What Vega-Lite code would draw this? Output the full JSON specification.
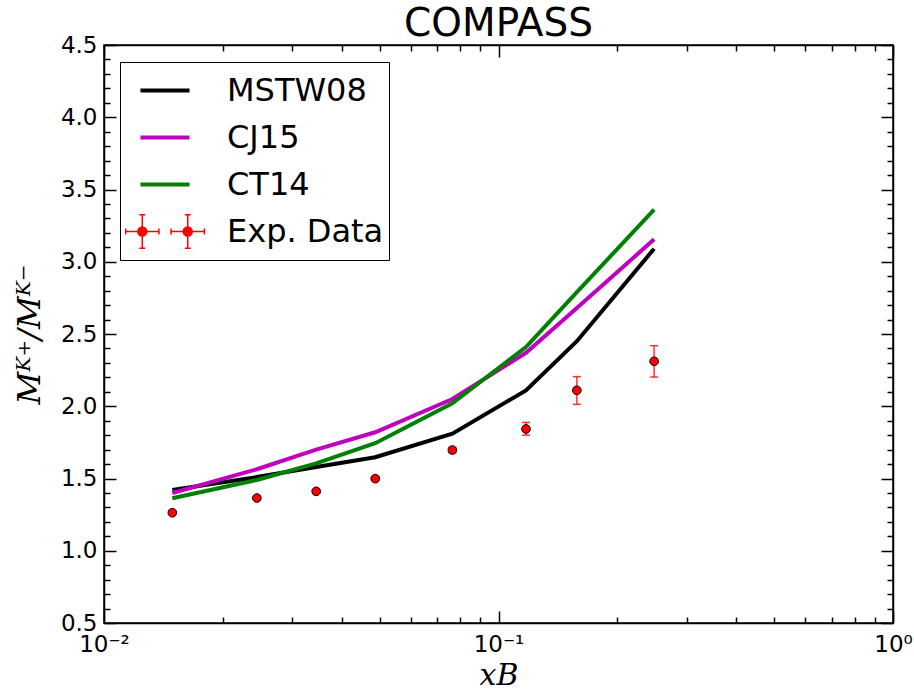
{
  "$schema": "https://vega.github.io/schema/vega-lite/v6.json",
  "width": 789,
  "height": 578,
  "autosize": "none",
  "padding": {"left": 104, "top": 45, "right": 21, "bottom": 71},
  "title": {"text": "COMPASS", "fontSize": 39, "font": "DejaVu Sans", "fontWeight": "normal", "color": "black", "offset": 8, "baseline": "alphabetic", "anchor": "middle", "dy": 49},
  "config": {
    "view": {"stroke": "black", "strokeWidth": 1.5},
    "axis": {"grid": false, "tickColor": "black", "tickWidth": 1.5, "domainColor": "black", "domainWidth": 1.5, "labelFont": "DejaVu Sans", "labelFontSize": 23, "labelColor": "black", "titleColor": "black"}
  },
  "datasets": {
    "curves": [
      {"series": "MSTW08", "x": 0.0149, "y": 1.42},
      {"series": "MSTW08", "x": 0.0244, "y": 1.51},
      {"series": "MSTW08", "x": 0.0345, "y": 1.58},
      {"series": "MSTW08", "x": 0.0487, "y": 1.647},
      {"series": "MSTW08", "x": 0.0764, "y": 1.81},
      {"series": "MSTW08", "x": 0.1174, "y": 2.11},
      {"series": "MSTW08", "x": 0.158, "y": 2.45},
      {"series": "MSTW08", "x": 0.248, "y": 3.09},
      {"series": "CJ15", "x": 0.0149, "y": 1.40},
      {"series": "CJ15", "x": 0.0244, "y": 1.564},
      {"series": "CJ15", "x": 0.0345, "y": 1.70},
      {"series": "CJ15", "x": 0.0487, "y": 1.82},
      {"series": "CJ15", "x": 0.0764, "y": 2.05},
      {"series": "CJ15", "x": 0.1174, "y": 2.37},
      {"series": "CJ15", "x": 0.158, "y": 2.68},
      {"series": "CJ15", "x": 0.248, "y": 3.155},
      {"series": "CT14", "x": 0.0149, "y": 1.363},
      {"series": "CT14", "x": 0.0244, "y": 1.49},
      {"series": "CT14", "x": 0.0345, "y": 1.605},
      {"series": "CT14", "x": 0.0487, "y": 1.744},
      {"series": "CT14", "x": 0.0764, "y": 2.02},
      {"series": "CT14", "x": 0.1174, "y": 2.41},
      {"series": "CT14", "x": 0.158, "y": 2.79},
      {"series": "CT14", "x": 0.248, "y": 3.36}
    ],
    "exp": [
      {"x": 0.0149, "y": 1.263, "lo": 1.253, "hi": 1.273},
      {"x": 0.0244, "y": 1.365, "lo": 1.355, "hi": 1.375},
      {"x": 0.0345, "y": 1.411, "lo": 1.399, "hi": 1.423},
      {"x": 0.0487, "y": 1.499, "lo": 1.487, "hi": 1.511},
      {"x": 0.0764, "y": 1.697, "lo": 1.677, "hi": 1.717},
      {"x": 0.1174, "y": 1.843, "lo": 1.800, "hi": 1.888},
      {"x": 0.158, "y": 2.11, "lo": 2.013, "hi": 2.205},
      {"x": 0.248, "y": 2.311, "lo": 2.202, "hi": 2.419}
    ]
  },
  "layer": [
    {
      "data": {"name": "curves"},
      "mark": {"type": "line", "strokeWidth": 4},
      "encoding": {
        "x": {"field": "x", "type": "quantitative", "scale": {"type": "log", "domain": [0.01, 1]},
          "axis": {"orient": "bottom", "values": [0.01, 0.1, 1], "labelExpr": "datum.value < 0.05 ? '10⁻²' : (datum.value < 0.5 ? '10⁻¹' : '10⁰')", "tickSize": -12, "labelPadding": 22, "labelFlush": false, "title": "xB", "titleFont": "DejaVu Serif", "titleFontStyle": "italic", "titleFontWeight": "normal", "titleFontSize": 30, "titlePadding": 4}},
        "y": {"field": "y", "type": "quantitative", "scale": {"domain": [0.5, 4.5]},
          "axis": {"orient": "left", "values": [0.5, 1, 1.5, 2, 2.5, 3, 3.5, 4, 4.5], "format": ".1f", "tickSize": -12, "labelPadding": 19, "labelFlush": false, "title": "Mᴷ⁺/Mᴷ⁻", "titleFont": "DejaVu Serif", "titleFontStyle": "italic", "titleFontWeight": "normal", "titleFontSize": 32, "titlePadding": 14}},
        "color": {"field": "series", "type": "nominal",
          "scale": {"domain": ["MSTW08", "CJ15", "CT14", "Exp. Data"], "range": ["black", "#bf00bf", "#008000", "red"]},
          "legend": {"title": null, "orient": "none", "legendX": 16, "legendY": 17, "padding": 5, "rowPadding": 0, "clipHeight": 47, "symbolSize": 2025, "symbolOffset": 24, "labelOffset": 46, "labelFontSize": 32, "labelFont": "DejaVu Sans", "labelColor": "black", "labelLimit": 0, "strokeColor": "black", "fillColor": "white", "cornerRadius": 0, "symbolType": "stroke", "symbolStrokeWidth": 4,
            "encode": {"symbols": {"update": {
              "shape": {"signal": "datum.value === 'Exp. Data' ? 'M-1.75,0H-0.27M-1.01,-0.74V0.74M-1.14,-0.74H-0.88M-1.14,0.74H-0.88M-1.75,-0.13V0.13M-0.27,-0.13V0.13M-0.81,0A0.2,0.2 0 1,1 -1.21,0A0.2,0.2 0 1,1 -0.81,0ZM0.27,0H1.75M1.01,-0.74V0.74M0.88,-0.74H1.14M0.88,0.74H1.14M0.27,-0.13V0.13M1.75,-0.13V0.13M1.21,0A0.2,0.2 0 1,1 0.81,0A0.2,0.2 0 1,1 1.21,0Z' : 'M-1.09,0H1.09'"},
              "fill": {"signal": "datum.value === 'Exp. Data' ? 'red' : 'transparent'"},
              "stroke": {"scale": "color", "field": "value"},
              "strokeWidth": {"signal": "datum.value === 'Exp. Data' ? 1.5 : 4"},
              "opacity": {"value": 1}
            }}}}
        }
      }
    },
    {
      "data": {"name": "exp"},
      "mark": {"type": "rule", "color": "red", "strokeWidth": 1.5, "opacity": 0.8},
      "encoding": {
        "x": {"field": "x", "type": "quantitative", "axis": {"orient": "bottom", "values": [0.02, 0.03, 0.04, 0.05, 0.06, 0.07, 0.08, 0.09, 0.2, 0.3, 0.4, 0.5, 0.6, 0.7, 0.8, 0.9], "labels": false, "domain": false, "tickSize": -6, "title": null}},
        "y": {"field": "lo", "type": "quantitative", "axis": {"orient": "left", "values": [0.6, 0.7, 0.8, 0.9, 1.1, 1.2, 1.3, 1.4, 1.6, 1.7, 1.8, 1.9, 2.1, 2.2, 2.3, 2.4, 2.6, 2.7, 2.8, 2.9, 3.1, 3.2, 3.3, 3.4, 3.6, 3.7, 3.8, 3.9, 4.1, 4.2, 4.3, 4.4], "labels": false, "domain": false, "tickSize": -6, "title": null}},
        "y2": {"field": "hi"}
      }
    },
    {
      "data": {"name": "exp"},
      "mark": {"type": "tick", "orient": "horizontal", "color": "red", "size": 8, "thickness": 1.5, "opacity": 0.8},
      "encoding": {
        "x": {"field": "x", "type": "quantitative", "axis": {"orient": "top", "values": [0.01, 0.1, 1], "labels": false, "tickSize": -12, "title": null}},
        "y": {"field": "lo", "type": "quantitative", "axis": {"orient": "right", "values": [0.5, 1, 1.5, 2, 2.5, 3, 3.5, 4, 4.5], "labels": false, "tickSize": -12, "title": null}}
      }
    },
    {
      "data": {"name": "exp"},
      "mark": {"type": "tick", "orient": "horizontal", "color": "red", "size": 8, "thickness": 1.5, "opacity": 0.8},
      "encoding": {
        "x": {"field": "x", "type": "quantitative", "axis": {"orient": "top", "values": [0.02, 0.03, 0.04, 0.05, 0.06, 0.07, 0.08, 0.09, 0.2, 0.3, 0.4, 0.5, 0.6, 0.7, 0.8, 0.9], "labels": false, "domain": false, "tickSize": -6, "title": null}},
        "y": {"field": "hi", "type": "quantitative", "axis": {"orient": "right", "values": [0.6, 0.7, 0.8, 0.9, 1.1, 1.2, 1.3, 1.4, 1.6, 1.7, 1.8, 1.9, 2.1, 2.2, 2.3, 2.4, 2.6, 2.7, 2.8, 2.9, 3.1, 3.2, 3.3, 3.4, 3.6, 3.7, 3.8, 3.9, 4.1, 4.2, 4.3, 4.4], "labels": false, "domain": false, "tickSize": -6, "title": null}}
      }
    },
    {
      "data": {"name": "exp"},
      "mark": {"type": "point", "filled": true, "fill": "red", "stroke": "black", "strokeWidth": 1, "size": 75, "opacity": 1},
      "encoding": {
        "x": {"field": "x", "type": "quantitative", "axis": null},
        "y": {"field": "y", "type": "quantitative", "axis": null}
      }
    },
    {
      "mark": {"type": "text", "text": "FF:DSS07", "font": "DejaVu Sans", "fontSize": 28, "align": "left", "baseline": "middle", "color": "black"},
      "encoding": {
        "x": {"datum": 0.01234, "type": "quantitative", "axis": null},
        "y": {"datum": 2.818, "type": "quantitative", "axis": null}
      }
    }
  ],
  "resolve": {"axis": {"x": "independent", "y": "independent"}}
}
